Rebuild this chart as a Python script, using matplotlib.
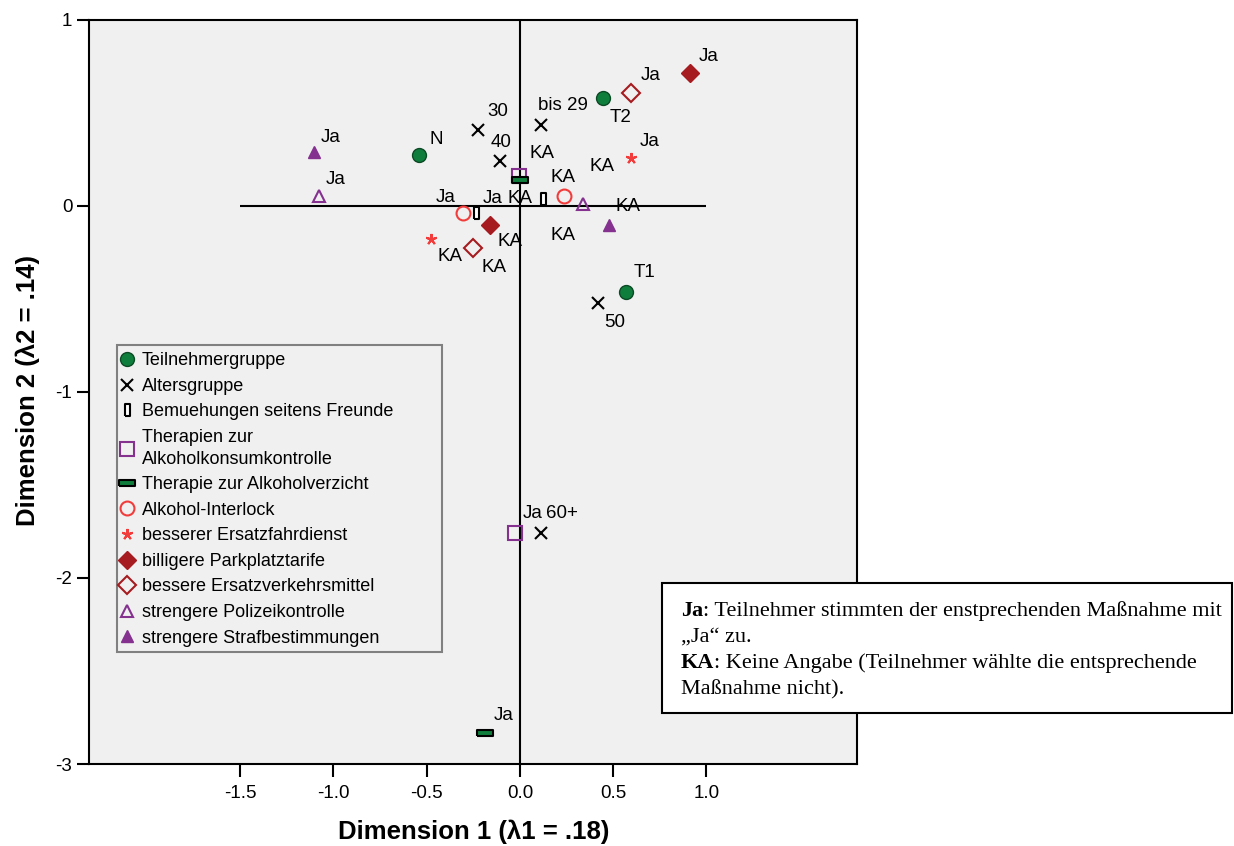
import numpy as np
import matplotlib
matplotlib.use("Agg")
import matplotlib.pyplot as plt
from matplotlib.patches import Rectangle
from matplotlib.text import Annotation

plt.rcParams['font.family'] = ['Liberation Sans', 'DejaVu Sans']
plt.rcParams['axes.unicode_minus'] = False

# Teilnehmergruppe
teil_labels = ["N", "T2", "T1"]
teil_x = [-0.542, 0.445, 0.568]
teil_y = [0.273, 0.579, -0.461]

# Altersgruppe
alter_labels = ["bis 29", "30", "40", "50", "60+"]
alter_x = [0.113, -0.225, -0.107, 0.418, 0.113]
alter_y = [0.434, 0.407, 0.241, -0.520, -1.759]

# Maßnahmen (Ja / KA)
measures = ["Bemuehungen seitens Freunde",
            "Therapien zur\nAlkoholkonsumkontrolle",
            "Therapie zur Alkoholverzicht",
            "Alkohol-Interlock",
            "besserer Ersatzfahrdienst",
            "billigere Parkplatztarife",
            "bessere Ersatzverkehrsmittel",
            "strengere Polizeikontrolle",
            "strengere Strafbestimmungen"]
ja_x = [-0.236, -0.027, -0.188, -0.306, 0.595, 0.912, 0.595, -1.078, -1.105]
ja_y = [-0.038, -1.759, -2.836, -0.038, 0.257, 0.713, 0.606, 0.054, 0.290]
ka_x = [0.123, -0.005, 0.0, 0.236, -0.477, -0.161, -0.252, 0.338, 0.477]
ka_y = [0.038, 0.161, 0.139, 0.054, -0.177, -0.102, -0.225, 0.011, -0.102]

x_ticks = [-1.5, -1.0, -0.5, 0.0, 0.5, 1.0]
y_ticks = [1, 0, -1, -2, -3]

# label offsets in pixels
teil_off = [(17, 16), (18, -19), (19, 19)]
alter_off = [(22, 20), (20, 19), (1, 19), (17, -20), (21, 20)]
ja_off = [(17, 15), (18, 20), (19, 18), (-17, 16), (19, 17), (19, 17), (20, 18), (17, 16), (17, 15)]
ka_off = [(20, 21), (23, 23), (0, -18), (-1, -40), (19, -18), (20, -17), (21, -20), (19, 37), (19, 18)]

green = '#0f7e3d'
purple = '#84318f'
red = '#f23c3c'
darkred = '#a61b1f'
tall_rect = [(-0.4, -1), (0.4, -1), (0.4, 1), (-0.4, 1), (-0.4, -1)]
wide_rect = [(-1, -0.45), (1, -0.45), (1, 0.45), (-1, 0.45), (-1, -0.45)]
styles = [
    dict(marker=tall_rect, ms=9, mfc='white', mec='black', mew=1.5),
    dict(marker='s', ms=10, mfc='none', mec=purple, mew=1.5),
    dict(marker=wide_rect, ms=11, mfc=green, mec='black', mew=1.5),
    dict(marker='o', ms=10, mfc='none', mec=red, mew=1.5),
    dict(marker=(5, 2, 0), ms=8, color=red, mew=1.5),
    dict(marker='D', ms=9, mfc=darkred, mec=darkred, mew=1),
    dict(marker='D', ms=9, mfc='none', mec=darkred, mew=1.5),
    dict(marker='^', ms=8, mfc='none', mec=purple, mew=1.5),
    dict(marker='^', ms=8, mfc=purple, mec=purple, mew=1),
]

fig = plt.figure(figsize=(12.34, 8.46), dpi=100)
ax = fig.add_axes([89 / 1234, 1 - 764 / 846, 768 / 1234, 744 / 846])
ax.set_facecolor('#f0f0f0')

ax.hlines(0, x_ticks[0], x_ticks[-1], color='black', lw=1.5, zorder=1)
ax.vlines(0, y_ticks[-1], y_ticks[0], color='black', lw=1.5, zorder=1)

lab_kw = dict(textcoords='offset pixels', ha='center', va='center', fontsize=13.5)

ax.plot(teil_x, teil_y, ls='none', marker='o', ms=10, mfc=green, mec='#0b4a24',
        mew=1, label='Teilnehmergruppe', zorder=3)
for x, y, t, o in zip(teil_x, teil_y, teil_labels, teil_off):
    ax.annotate(t, (x, y), xytext=o, **lab_kw)

ax.plot(alter_x, alter_y, ls='none', marker='x', ms=8, color='black', mew=1.5,
        label='Altersgruppe', zorder=3)
for x, y, t, o in zip(alter_x, alter_y, alter_labels, alter_off):
    ax.annotate(t, (x, y), xytext=o, **lab_kw)

for i, name in enumerate(measures):
    ax.plot([ja_x[i], ka_x[i]], [ja_y[i], ka_y[i]], ls='none', label=name,
            zorder=3, **styles[i])
    ax.annotate("Ja", (ja_x[i], ja_y[i]), xytext=ja_off[i], **lab_kw)
    ax.annotate("KA", (ka_x[i], ka_y[i]), xytext=ka_off[i], **lab_kw)

narrow = ['Liberation Sans Narrow', 'DejaVu Sans Condensed', 'Liberation Sans']
ax.set_xlim(-2.31, 1.807)
ax.set_ylim(-3, 1)
ax.set_xticks(x_ticks)
ax.set_xticklabels([f"{v:.1f}" for v in x_ticks], family=narrow, fontsize=13.5)
ax.set_yticks(y_ticks)
ax.set_yticklabels([str(v) for v in y_ticks], fontsize=13.5)
ax.tick_params(direction='out', length=9, width=1.5, pad=3)
ax.tick_params(axis='x', pad=6)
for s in ax.spines.values():
    s.set_linewidth(1.5)

fig.text(474 / 1234, 1 - 832 / 846, "Dimension 1 (λ1 = .18)", ha='center', va='center',
         fontsize=18.5, fontweight='bold')
fig.text(28 / 1234, 1 - 390 / 846, "Dimension 2 (λ2 = .14)", ha='center', va='center',
         fontsize=18.5, fontweight='bold', rotation=90)

# legend: frameless, with a separate box drawn behind it
ax.add_patch(Rectangle((117 / 1234, 1 - 652 / 846), 325 / 1234, 307 / 846,
                       transform=fig.transFigure, facecolor='#f0f0f0',
                       edgecolor='#808080', lw=1.5, zorder=4))
leg = ax.legend(loc='upper left', bbox_to_anchor=(113 / 1234, 1 - 346 / 846),
                bbox_transform=fig.transFigure, borderaxespad=0, fontsize=13,
                handlelength=0.8, handletextpad=0.45, labelspacing=0.475,
                borderpad=0.35, frameon=False, numpoints=1)
leg.set_zorder(5)
for t in leg.get_texts():
    t.set_linespacing(1.35)

# note box
fig.patches.append(Rectangle((662 / 1234, 1 - 713 / 846), 570 / 1234, 130 / 846,
                             transform=fig.transFigure, facecolor='white',
                             edgecolor='black', lw=1.5, zorder=5))
serif = ['Liberation Serif', 'DejaVu Serif']
note_kw = dict(family=serif, fontsize=16, va='baseline', zorder=6)
t1 = fig.text(681 / 1234, 1 - 616 / 846, "Ja", fontweight='bold', **note_kw)
fig.add_artist(Annotation(": Teilnehmer stimmten der enstprechenden Maßnahme mit",
                          xy=(1, 0), xycoords=t1, va='bottom', family=serif,
                          fontsize=16, zorder=6))
fig.text(681 / 1234, 1 - 642 / 846, "„Ja“ zu.", **note_kw)
t3 = fig.text(681 / 1234, 1 - 668 / 846, "KA", fontweight='bold', **note_kw)
fig.add_artist(Annotation(": Keine Angabe (Teilnehmer wählte die entsprechende",
                          xy=(1, 0), xycoords=t3, va='bottom', family=serif,
                          fontsize=16, zorder=6))
fig.text(681 / 1234, 1 - 694 / 846, "Maßnahme nicht).", **note_kw)

fig.savefig("out.png", dpi=100)
